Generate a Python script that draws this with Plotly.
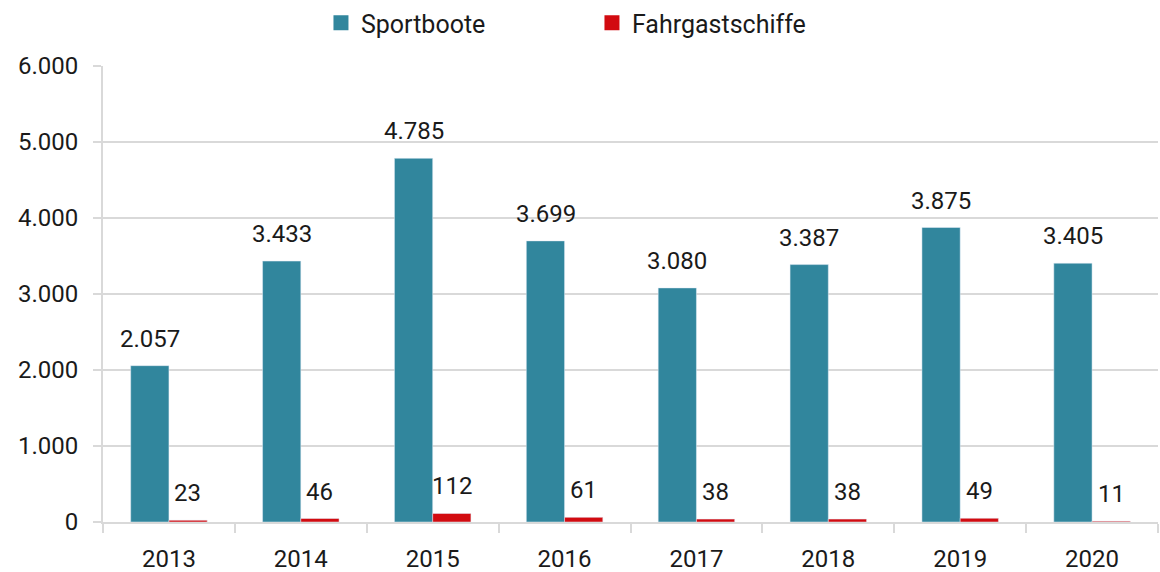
import plotly.graph_objects as go

years = ["2013", "2014", "2015", "2016", "2017", "2018", "2019", "2020"]
sportboote = [2057, 3433, 4785, 3699, 3080, 3387, 3875, 3405]
fahrgastschiffe = [23, 46, 112, 61, 38, 38, 49, 11]

TEAL = "#31869D"
RED = "#D20B10"
GRID = "#D9D9D9"
INK = "#1a1a1a"
FONT = "Roboto"
FS = 24
BAR_SHIFT = 19  # half of one bar's width in px, to centre labels over each bar

fig = go.Figure()
fig.add_trace(go.Bar(name="Sportboote", x=years, y=sportboote,
                     marker_color=TEAL, showlegend=False))
fig.add_trace(go.Bar(name="Fahrgastschiffe", x=years, y=fahrgastschiffe,
                     marker_color=RED, showlegend=False))

# legend entries with larger square swatches
for name, color in [("Sportboote", TEAL), ("Fahrgastschiffe", RED)]:
    fig.add_trace(go.Scatter(
        name=name, x=[years[0]], y=[None], mode="markers",
        marker=dict(symbol="square", size=15, color=color), showlegend=True,
    ))

# value labels above each bar
for series, shift in [(sportboote, -BAR_SHIFT), (fahrgastschiffe, BAR_SHIFT)]:
    for i, v in enumerate(series):
        fig.add_annotation(
            x=i, y=v, xref="x", yref="y", text=f"{v:,}".replace(",", "."),
            showarrow=False, xshift=shift, yshift=11, yanchor="bottom",
            font=dict(size=FS, color=INK, family=FONT),
        )

fig.update_layout(
    width=1160, height=572,
    margin=dict(l=103, r=2, t=66, b=50),
    paper_bgcolor="white", plot_bgcolor="white",
    font=dict(family=FONT, size=FS, color=INK),
    separators=",.",
    barmode="group", bargap=0.42, bargroupgap=0,
    legend=dict(
        orientation="h", x=0.2066, xanchor="left", y=1.0, yanchor="top",
        yref="container", font=dict(size=25), entrywidth=226,
        entrywidthmode="pixels", itemsizing="trace",
    ),
)

fig.update_xaxes(
    type="category", categoryorder="array", categoryarray=years,
    showline=True, linecolor=GRID, linewidth=2, automargin=False,
    ticks="outside", tickson="boundaries", ticklen=9, tickcolor=GRID, tickwidth=2,
    tickfont=dict(size=FS), showgrid=False, ticklabelstandoff=14,
)
fig.update_yaxes(
    range=[0, 6000], dtick=1000, tickformat=",d", automargin=False,
    showline=True, linecolor=GRID, linewidth=2,
    showgrid=True, gridcolor=GRID, gridwidth=2,
    ticks="outside", ticklen=8, tickcolor=GRID, tickwidth=2,
    tickfont=dict(size=FS), zeroline=False, ticklabelstandoff=10,
)

fig.write_html("out.html")
